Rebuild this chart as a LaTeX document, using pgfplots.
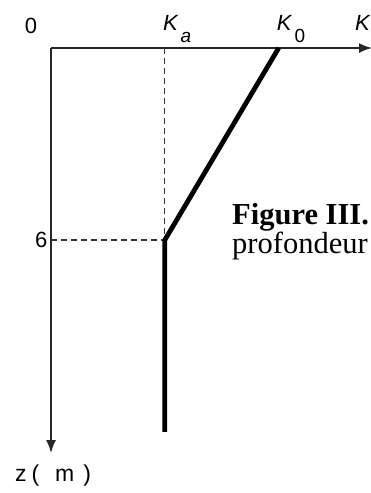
\documentclass[border=0pt]{standalone}
\usepackage{fontspec}
\setmainfont{Liberation Serif}
\newfontfamily\labelfont{Liberation Sans}
\usepackage{pgfplots}
\pgfplotsset{compat=1.18}
\usetikzlibrary{arrows.meta}

% label fonts
\newcommand\lbl{\labelfont\fontsize{22bp}{22bp}\selectfont}
\newcommand\sub{\labelfont\fontsize{19bp}{19bp}\selectfont}
\newcommand\Ksub[1]{{\lbl\itshape K}\hspace{3bp}\raisebox{-12bp}{\sub #1}}

\begin{document}
\begin{tikzpicture}[x=1bp,y=1bp]
\path[use as bounding box] (0,0) rectangle (370,-493);
\begin{axis}[
  at={(51bp,-48bp)}, anchor=north west,
  scale only axis, width=321bp, height=405bp,
  xmin=0, xmax=2.82, ymin=0, ymax=12.66,
  y dir=reverse,
  axis x line=top, axis y line=left,
  axis line style={line width=1.8bp, black!85, -{Latex[length=13bp,width=10bp]}},
  xtick={1,2},
  xticklabels={\Ksub{\itshape a}, \Ksub{0}},
  xticklabel style={anchor=base west, inner sep=0pt, xshift=-2bp, yshift=18bp},
  ytick={6},
  yticklabel style={font=\lbl},
  /pgf/number format/assume math mode=true,
  major tick length=0pt,
  clip=false,
]
% guide lines at K = K_a and z = 6 m
\addplot[black!80, line width=1.3bp, dash pattern=on 6bp off 4bp]
  coordinates {(1,0) (1,6)};
\addplot[black!80, line width=1.3bp, dash pattern=on 6bp off 4bp]
  coordinates {(0,6) (1,6)};
% coefficient profile: K_0 at surface down to K_a at 6 m, then constant
\addplot[black, line width=4.8bp, line join=round]
  coordinates {(2,0) (1,6) (1,12)};
\node[font=\lbl, anchor=center] at ([xshift=-20bp, yshift=22bp]axis cs:0,0) {0};
\node[font=\lbl\itshape, anchor=base west, inner sep=0pt]
  at ([xshift=-17bp, yshift=18bp]axis cs:2.82,0) {K};
\node[font=\labelfont\fontsize{23bp}{23bp}\selectfont, anchor=center]
  at ([xshift=2bp, yshift=-23bp]axis cs:0,12.66)
  {z\hspace{5bp}(\hspace{16bp}m\hspace{9bp})};
\end{axis}
\node[anchor=base west, inner sep=0pt, font=\fontsize{30.5bp}{30.5bp}\selectfont\bfseries]
  at (232,-224) {Figure III.};
\node[anchor=base west, inner sep=0pt, font=\fontsize{30.5bp}{30.5bp}\selectfont]
  at (232,-253) {profondeur};
\end{tikzpicture}
\end{document}
